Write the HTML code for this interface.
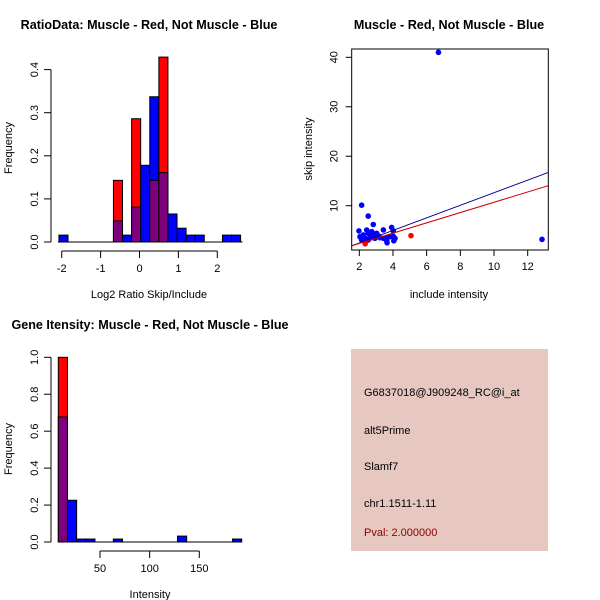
<!DOCTYPE html>
<html><head><meta charset="utf-8"><style>
body{margin:0;background:#fff}
svg{display:block;font-family:"Liberation Sans",sans-serif}
</style></head><body>
<svg id="c" width="600" height="600" xmlns="http://www.w3.org/2000/svg"></svg>
<script>
// Panel 1: ratio histogram
const ratioBins = [-6,-5,-4,-3,-2,-1,0,1,2,3,4,5,6,7,8,9,10,11,12,13];
const ratioBlue = [0.016,0,0,0,0,0,0.049,0.016,0.081,0.178,0.337,0.161,0.065,0.032,0.016,0.016,0,0,0.016,0.016];
const ratioRed  = [0,0,0,0,0,0,0.143,0,0.286,0,0.143,0.429,0,0,0,0,0,0,0,0];
const ratioXTicks = [-2,-1,0,1,2];
const ratioYTicks = [0,0.1,0.2,0.3,0.4];
// Panel 2: scatter
const blueX = [6.7,12.85,2.14,2.53,2.83,3.43,3.92,4.02,4.02,4.12,1.98,2.04,2.24,2.44,2.53,2.64,2.74,2.83,2.93,3.03,3.13,3.23,2.34,2.14,3.43,3.63,3.82,3.63,2.53,2.74,3.65,4.05];
const blueY = [41,3.2,10.1,7.9,6.2,5.1,5.6,4.9,3.8,3.4,4.9,3.73,4.08,5.09,4.42,3.73,4.75,4.08,3.41,4.42,3.94,3.53,3.41,3.07,3.41,3.53,3.73,2.87,3.07,3.53,2.5,2.9];
const redX = [5.07,2.35];
const redY = [3.94,2.3];
const blueFit = [-0.07,1.27];
const redFit = [0.29,1.04];
const scatXTicks = [2,4,6,8,10,12];
const scatYTicks = [10,20,30,40];
// Panel 3: intensity histogram
const intBins = [0,1,2,3,4,5,6,7,8,9,10,11,12,13,14,15,16,17,18,19];
const intBlue = [0.677,0.226,0.016,0.016,0,0,0.016,0,0,0,0,0,0,0.032,0,0,0,0,0,0.016];
const intRed  = [1.0,0,0,0,0,0,0,0,0,0,0,0,0,0,0,0,0,0,0,0];
const intXTicks = [50,100,150];
const intYTicks = [0,0.2,0.4,0.6,0.8,1.0];

const NS="http://www.w3.org/2000/svg", svg=document.getElementById('c');
function mk(tag,attrs,parent){const e=document.createElementNS(NS,tag);for(const k in attrs)e.setAttribute(k,attrs[k]);(parent||svg).appendChild(e);return e;}
function txt(s,x,y,attrs,parent){const e=mk('text',Object.assign({x:x,y:y,'font-size':12},attrs||{}),parent);e.textContent=s;return e;}

function hist(bins,blue,red,ys,x0,yBase,colW,g){
  const ax=mk('g',{},g);
  
  
  bins.forEach((k,i)=>{
    const L=x0+k*colW, b=blue[i], r=red[i];
    const lo=Math.min(b,r), hi=Math.max(b,r);
    if(hi>0){
      const top=mk('rect',{x:L,y:ys(hi),width:colW,height:yBase-ys(hi),fill:r>b?'#ff0000':'#0000ff',stroke:'#000','stroke-width':1},ax);
      
      
    }
    if(lo>0){
      const p=mk('rect',{x:L,y:ys(lo),width:colW,height:yBase-ys(lo),fill:'#7f007f',stroke:'#000','stroke-width':1},ax);
      
      
    }
  });
}
function yAxis(ticks,ys,xAx,g){
  const a=mk('g',{},g);
  
  
  mk('line',{x1:xAx,x2:xAx,y1:ys(ticks[0]),y2:ys(ticks[ticks.length-1]),stroke:'#000'},a);
  ticks.forEach(t=>{
    mk('line',{x1:xAx-7,x2:xAx,y1:ys(t),y2:ys(t),stroke:'#000'},a);
    const lx=xAx-13;
    const tl=txt(String(t===1?'1.0':t===0?'0.0':t),lx,ys(t),{'text-anchor':'middle',transform:`rotate(-90 ${lx} ${ys(t)})`,'font-size':11},a);
    
    
  });
}
function xAxis(ticks,xs,yAx,g){
  const a=mk('g',{},g);
  
  
  mk('line',{x1:xs(ticks[0]),x2:xs(ticks[ticks.length-1]),y1:yAx,y2:yAx,stroke:'#000'},a);
  ticks.forEach(t=>{
    mk('line',{x1:xs(t),x2:xs(t),y1:yAx,y2:yAx+7,stroke:'#000'},a);
    const tl=txt(String(t),xs(t),yAx+21,{'text-anchor':'middle','font-size':11},a);
    
    
  });
}

// Panel 1
{
  const g=mk('g',{});
  
  
  const xs=v=>61.7+(v+2)*38.9, ys=v=>242-v*431;
  const unitW=0.2335*38.9, x0=xs(-0.67);
  hist(ratioBins,ratioBlue,ratioRed,ys,x0,242,unitW,g);
  mk('line',{x1:xs(-2.1),x2:xs(2.65),y1:242,y2:242,stroke:'#000'},g);
  yAxis(ratioYTicks,ys,51,g);
  xAxis(ratioXTicks,xs,251,g);
  const t=txt('RatioData: Muscle - Red, Not Muscle - Blue',149,29,{'text-anchor':'middle','font-weight':'bold','font-size':12.6},g);
  
  const xl=txt('Log2 Ratio Skip/Include',149,298,{'text-anchor':'middle','font-size':11},g);
  
  const yl=txt('Frequency',12,148,{'text-anchor':'middle','font-size':11,transform:'rotate(-90 12 148)'},g);
  
}
// Panel 2
{
  const g=mk('g',{});
  
  
  const xs=v=>359.3+(v-2)*16.84, ys=v=>205.7-(v-10)*4.947;
  const L=351.7,R=548.3,T=49,B=250;
  const cp=mk('clipPath',{id:'cp'},g);mk('rect',{x:L,y:T,width:R-L,height:B-T},cp);
  const pts=mk('g',{'clip-path':'url(#cp)'},g);
  blueX.forEach((x,i)=>{const c=mk('circle',{cx:xs(x),cy:ys(blueY[i]),r:2.8,fill:'#0000ff'},pts);
    });
  redX.forEach((x,i)=>{const c=mk('circle',{cx:xs(x),cy:ys(redY[i]),r:2.8,fill:'#ff0000'},pts);
    });
  const fx0=1.3,fx1=13.5;
  const bl=mk('line',{x1:xs(fx0),y1:ys(blueFit[0]+blueFit[1]*fx0),x2:xs(fx1),y2:ys(blueFit[0]+blueFit[1]*fx1),stroke:'#00008b','stroke-width':1},pts);
  
  const rl=mk('line',{x1:xs(fx0),y1:ys(redFit[0]+redFit[1]*fx0),x2:xs(fx1),y2:ys(redFit[0]+redFit[1]*fx1),stroke:'#cd0000','stroke-width':1},pts);
  
  const box=mk('rect',{x:L,y:T,width:R-L,height:B-T,fill:'none',stroke:'#000'},g);
  
  scatXTicks.forEach(t=>{mk('line',{x1:xs(t),x2:xs(t),y1:B,y2:B+6,stroke:'#000'},g);
    const tl=txt(String(t),xs(t),B+20,{'text-anchor':'middle','font-size':11},g);
    });
  scatYTicks.forEach(t=>{mk('line',{x1:L-6,x2:L,y1:ys(t),y2:ys(t),stroke:'#000'},g);
    const lx=L-14;
    const tl=txt(String(t),lx,ys(t),{'text-anchor':'middle','font-size':11,transform:`rotate(-90 ${lx} ${ys(t)})`},g);
    });
  const t=txt('Muscle - Red, Not Muscle - Blue',449,29,{'text-anchor':'middle','font-weight':'bold','font-size':12.6},g);
  
  const xl=txt('include intensity',449,298,{'text-anchor':'middle','font-size':11},g);
  
  const yl=txt('skip intensity',312,149,{'text-anchor':'middle','font-size':11,transform:'rotate(-90 312 149)'},g);
  
}
// Panel 3
{
  const g=mk('g',{});
  
  
  const xs=v=>100+(v-50)*0.993, ys=v=>542-v*184.7;
  const colW=9.17, x0=58.3;
  hist(intBins,intBlue,intRed,ys,x0,542,colW,g);
  mk('line',{x1:x0,x2:x0+20*colW,y1:542,y2:542,stroke:'#000'},g);
  yAxis(intYTicks,ys,51,g);
  xAxis(intXTicks,xs,551,g);
  const t=txt('Gene Itensity: Muscle - Red, Not Muscle - Blue',150,329,{'text-anchor':'middle','font-weight':'bold','font-size':12.6},g);
  
  const xl=txt('Intensity',150,598,{'text-anchor':'middle','font-size':11},g);
  
  const yl=txt('Frequency',12,449,{'text-anchor':'middle','font-size':11,transform:'rotate(-90 12 449)'},g);
  
}
</script>
<svg width="600" height="600" style="position:absolute;left:0;top:0" xmlns="http://www.w3.org/2000/svg">
  <g font-family="Liberation Sans, sans-serif" font-size="11">
    <rect x="351" y="349" width="197" height="202" fill="#e6c8c1"/>
    <text x="364" y="396" fill="#000">G6837018@J909248_RC@i_at</text>
    <text x="364" y="434" fill="#000">alt5Prime</text>
    <text x="364" y="470" fill="#000">Slamf7</text>
    <text x="364" y="507" fill="#000">chr1.1511-1.11</text>
    <text x="364" y="536" fill="#8b0000">Pval: 2.000000</text>
  </g>
</svg>
</body></html>
